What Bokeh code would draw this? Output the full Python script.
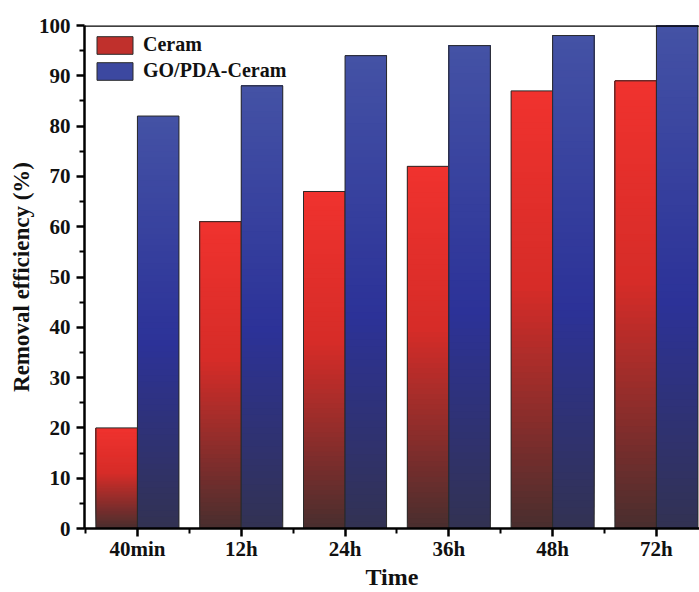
import numpy as np
from bokeh.plotting import figure
from bokeh.models import (ColumnDataSource, FixedTicker, Span, Legend, LegendItem)
from bokeh.embed import file_html
from bokeh.resources import INLINE

# ---- data ----
categories = ["40min", "12h", "24h", "36h", "48h", "72h"]
ceram = [20, 61, 67, 72, 87, 89]
go_pda_ceram = [82, 88, 94, 96, 98, 100]
y_ticks = list(range(0, 101, 10))

FONT = "Liberation Serif"

p = figure(width=699, height=592, output_backend="svg", toolbar_location=None,
           x_range=(-0.51, 5.415), y_range=(0, 100),
           min_border_left=84, min_border_right=0, min_border_top=25,
           min_border_bottom=62)
p.outline_line_color = None
p.grid.grid_line_color = None
p.background_fill_color = "white"
p.border_fill_color = "white"


def lerp_color(stops, t):
    for (t0, c0), (t1, c1) in zip(stops[:-1], stops[1:]):
        if t0 <= t <= t1:
            f = (t - t0) / (t1 - t0) if t1 > t0 else 0
            c = [int(round(a + (b - a) * f)) for a, b in zip(c0, c1)]
            return "#%02x%02x%02x" % tuple(c)
    return "#%02x%02x%02x" % tuple(stops[-1][1])


red_stops = [(0.0, (72, 46, 46)), (0.55, (214, 44, 40)), (1.0, (240, 50, 46))]
blue_stops = [(0.0, (50, 50, 82)), (0.45, (44, 50, 152)), (1.0, (68, 82, 165))]

N = 70
W = 0.4


def gradient_source(values, offset, stops):
    # each slice spans from its lower edge up to the bar top; drawn bottom-up
    xs, bots, tops, cols = [], [], [], []
    for i, v in enumerate(values):
        edges = np.linspace(0, v, N + 1)
        for k in range(N):
            xs.append(i + offset)
            bots.append(edges[k])
            tops.append(v)
            cols.append(lerp_color(stops, (k + 0.5) / N))
    return ColumnDataSource(dict(x=xs, bottom=bots, top=tops, color=cols))


for vals, off, stops in [(ceram, -W / 2, red_stops), (go_pda_ceram, W / 2, blue_stops)]:
    src = gradient_source(vals, off, stops)
    p.vbar(x="x", bottom="bottom", top="top", width=W, source=src,
           fill_color="color", line_color=None)
    outline = ColumnDataSource(dict(x=[i + off for i in range(len(vals))], top=vals))
    p.vbar(x="x", top="top", bottom=0, width=W, source=outline,
           fill_color=None, line_color="#2a2a2a", line_width=1)

# legend with representative renderers
r_leg_red = p.vbar(x=[-10], top=[1], width=0.1, fill_color="#c0302c",
                   line_color="#2a2a2a", line_width=1)
r_leg_blue = p.vbar(x=[-10], top=[1], width=0.1, fill_color="#3c48a0",
                    line_color="#2a2a2a", line_width=1)
legend = Legend(items=[LegendItem(label="Ceram", renderers=[r_leg_red]),
                       LegendItem(label="GO/PDA-Ceram", renderers=[r_leg_blue])],
                location="top_left", margin=8, padding=0, spacing=3,
                glyph_width=45, glyph_height=22, label_height=22,
                label_standoff=6, border_line_color=None,
                background_fill_alpha=0,
                label_text_font=FONT, label_text_font_style="bold",
                label_text_font_size="20px", label_text_color="#111111")
p.add_layout(legend)

# top frame line
p.add_layout(Span(location=100, dimension="width", line_color="black", line_width=2.5))

# axes
p.xaxis.ticker = FixedTicker(ticks=list(range(len(categories))),
                             minor_ticks=[i + 0.5 for i in range(-1, len(categories))])
p.xaxis.major_label_overrides = {i: c for i, c in enumerate(categories)}
p.yaxis.ticker = FixedTicker(ticks=y_ticks, minor_ticks=[t + 5 for t in y_ticks[:-1]])

p.xaxis.axis_label = "Time"
p.yaxis.axis_label = "Removal efficiency (%)"

for ax in (p.xaxis, p.yaxis):
    ax.axis_line_width = 2.5
    ax.axis_line_color = "black"
    ax.major_tick_line_width = 2.5
    ax.minor_tick_line_width = 2
    ax.major_tick_line_color = "black"
    ax.minor_tick_line_color = "black"
    ax.major_tick_in = 0
    ax.major_tick_out = 8
    ax.minor_tick_in = 0
    ax.minor_tick_out = 5
    ax.major_label_text_font = FONT
    ax.major_label_text_font_style = "bold"
    ax.major_label_text_font_size = "21px"
    ax.major_label_text_color = "#111111"
    ax.axis_label_text_font = FONT
    ax.axis_label_text_font_style = "bold"
    ax.axis_label_text_color = "#111111"

p.xaxis.axis_label_text_font_size = "24px"
p.yaxis.axis_label_text_font_size = "23px"
p.xaxis.major_label_standoff = 0
p.xaxis.axis_label_standoff = 0
p.yaxis.major_label_standoff = 6
p.yaxis.axis_label_standoff = 2

open("out.html", "w").write(file_html(p, INLINE))
